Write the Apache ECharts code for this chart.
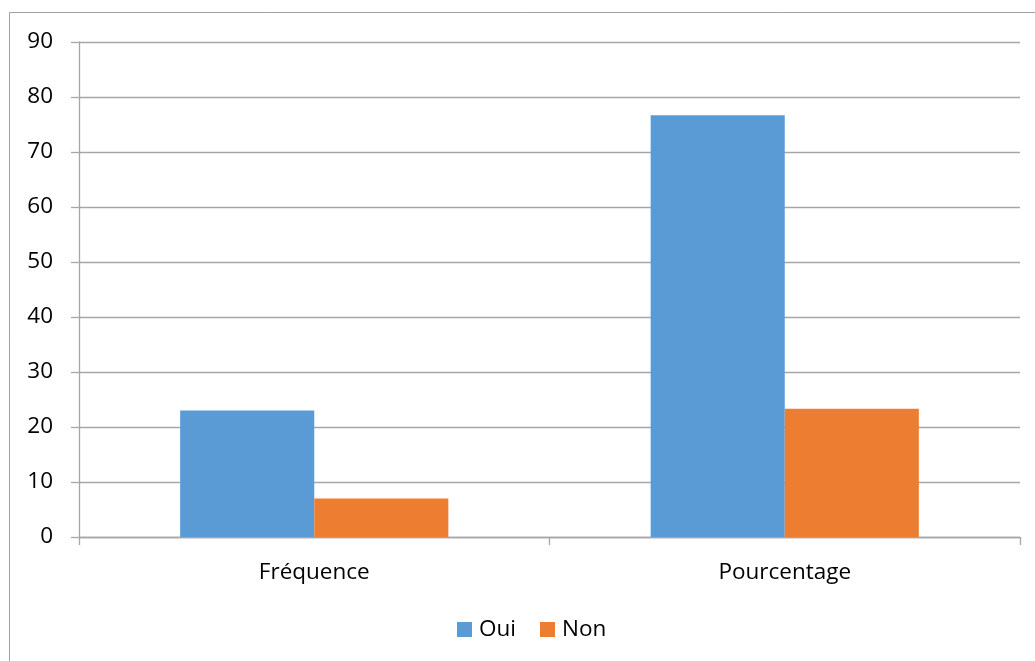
<!DOCTYPE html>
<html>
<head>
<meta charset="utf-8">
<script src="https://cdn.jsdelivr.net/npm/echarts@6/dist/echarts.min.js"></script>
<style>
  html, body { margin: 0; padding: 0; background: #ffffff; }
  #chart { width: 1035px; height: 661px; }
</style>
</head>
<body>
<div id="chart"></div>
<script>
// Categories and series values
const categories = ['Fréquence', 'Pourcentage'];
const ouiValues = [23, 76.67];
const nonValues = [7, 23.33];
const seriesNames = ['Oui', 'Non'];

const FONT = '"Open Sans", "Liberation Sans", sans-serif';
const GRID_COLOR = '#a6a6a6';

const chart = echarts.init(document.getElementById('chart'), null, { renderer: 'canvas' });

chart.setOption({
  animation: false,
  backgroundColor: '#ffffff',
  graphic: [{
    type: 'rect',
    shape: { x: 9.5, y: 12.5, width: 1040, height: 660 },
    style: { fill: 'none', stroke: '#a0a0a0', lineWidth: 1 },
    z: -1
  }],
  grid: { left: 79, right: 15, top: 42, bottom: 124, containLabel: false },
  legend: {
    data: seriesNames,
    left: 452,
    top: 613,
    itemWidth: 15,
    itemHeight: 15,
    itemGap: 24,
    icon: 'rect',
    textStyle: { fontFamily: FONT, fontSize: 22.5, color: '#000000', padding: [0, 0, 0, 2] }
  },
  xAxis: {
    type: 'category',
    data: categories,
    axisLine: { lineStyle: { color: GRID_COLOR, width: 1.3 } },
    axisTick: { show: true, length: 8, lineStyle: { color: GRID_COLOR, width: 1.3 } },
    axisLabel: { fontFamily: FONT, fontSize: 22.5, color: '#000000', margin: 24 }
  },
  yAxis: {
    type: 'value',
    min: 0,
    max: 90,
    interval: 10,
    axisLine: { show: true, lineStyle: { color: GRID_COLOR, width: 1.3 } },
    axisTick: { show: true, length: 8, lineStyle: { color: GRID_COLOR, width: 1.3 } },
    splitLine: { show: true, lineStyle: { color: GRID_COLOR, width: 1.3 } },
    axisLabel: { fontFamily: FONT, fontSize: 22.5, color: '#000000', margin: 26 }
  },
  series: [
    {
      name: seriesNames[0],
      type: 'bar',
      data: ouiValues,
      barGap: '0%',
      barCategoryGap: '43%',
      itemStyle: { color: '#5b9bd5' }
    },
    {
      name: seriesNames[1],
      type: 'bar',
      data: nonValues,
      itemStyle: { color: '#ed7d31' }
    }
  ]
});
</script>
</body>
</html>
